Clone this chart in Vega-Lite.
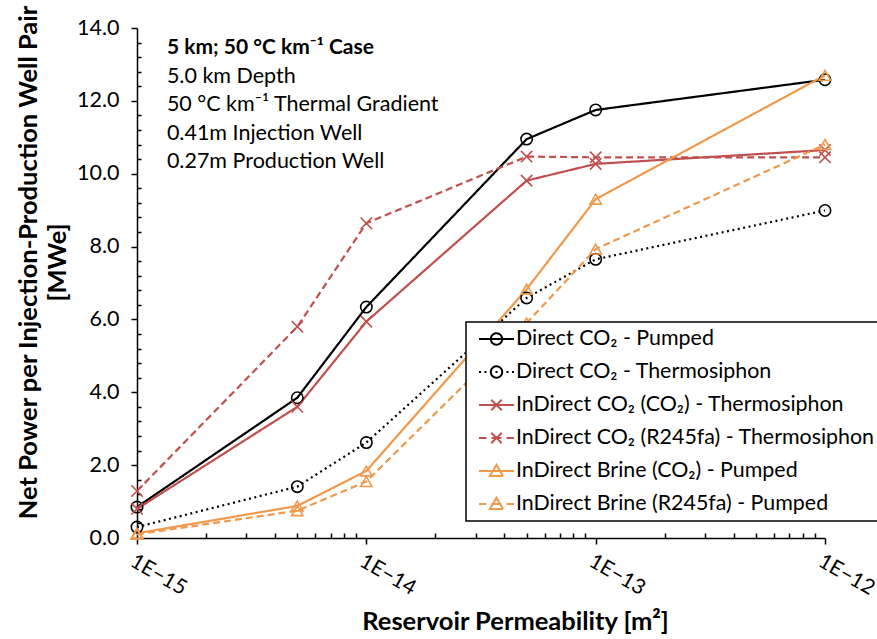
{
  "$schema": "https://vega.github.io/schema/vega-lite/v6.json",
  "width": 688,
  "height": 510,
  "autosize": {"type": "none"},
  "padding": {"left": 137, "top": 28, "right": 52, "bottom": 101},
  "background": "white",
  "config": {
    "view": {"stroke": null},
    "font": "Lato",
    "axis": {
      "grid": false,
      "ticks": true,
      "domainColor": "black",
      "domainWidth": 1.5,
      "tickColor": "black",
      "tickWidth": 1.5,
      "labelColor": "black",
      "labelFont": "Lato",
      "labelFontSize": 21.5,
      "titleColor": "black",
      "titleFont": "Lato",
      "titleFontSize": 25.5,
      "titleFontWeight": "bold"
    }
  },
  "datasets": {
    "power": [
      {"series": "Direct CO₂ - Pumped", "k": 1e-15, "p": 0.85},
      {"series": "Direct CO₂ - Pumped", "k": 5e-15, "p": 3.85},
      {"series": "Direct CO₂ - Pumped", "k": 1e-14, "p": 6.34},
      {"series": "Direct CO₂ - Pumped", "k": 5e-14, "p": 10.95},
      {"series": "Direct CO₂ - Pumped", "k": 1e-13, "p": 11.75},
      {"series": "Direct CO₂ - Pumped", "k": 1e-12, "p": 12.58},
      {"series": "Direct CO₂ - Thermosiphon", "k": 1e-15, "p": 0.3},
      {"series": "Direct CO₂ - Thermosiphon", "k": 5e-15, "p": 1.41},
      {"series": "Direct CO₂ - Thermosiphon", "k": 1e-14, "p": 2.62},
      {"series": "Direct CO₂ - Thermosiphon", "k": 5e-14, "p": 6.59},
      {"series": "Direct CO₂ - Thermosiphon", "k": 1e-13, "p": 7.65},
      {"series": "Direct CO₂ - Thermosiphon", "k": 1e-12, "p": 8.99},
      {"series": "InDirect CO₂ (CO₂) - Thermosiphon", "k": 1e-15, "p": 0.8},
      {"series": "InDirect CO₂ (CO₂) - Thermosiphon", "k": 5e-15, "p": 3.6},
      {"series": "InDirect CO₂ (CO₂) - Thermosiphon", "k": 1e-14, "p": 5.94},
      {"series": "InDirect CO₂ (CO₂) - Thermosiphon", "k": 5e-14, "p": 9.81},
      {"series": "InDirect CO₂ (CO₂) - Thermosiphon", "k": 1e-13, "p": 10.27},
      {"series": "InDirect CO₂ (CO₂) - Thermosiphon", "k": 1e-12, "p": 10.65},
      {"series": "InDirect CO₂ (R245fa) - Thermosiphon", "k": 1e-15, "p": 1.29},
      {"series": "InDirect CO₂ (R245fa) - Thermosiphon", "k": 5e-15, "p": 5.8},
      {"series": "InDirect CO₂ (R245fa) - Thermosiphon", "k": 1e-14, "p": 8.64},
      {"series": "InDirect CO₂ (R245fa) - Thermosiphon", "k": 5e-14, "p": 10.47},
      {"series": "InDirect CO₂ (R245fa) - Thermosiphon", "k": 1e-13, "p": 10.45},
      {"series": "InDirect CO₂ (R245fa) - Thermosiphon", "k": 1e-12, "p": 10.45},
      {"series": "InDirect Brine (CO₂) - Pumped", "k": 1e-15, "p": 0.13},
      {"series": "InDirect Brine (CO₂) - Pumped", "k": 5e-15, "p": 0.88},
      {"series": "InDirect Brine (CO₂) - Pumped", "k": 1e-14, "p": 1.84},
      {"series": "InDirect Brine (CO₂) - Pumped", "k": 5e-14, "p": 6.83},
      {"series": "InDirect Brine (CO₂) - Pumped", "k": 1e-13, "p": 9.3},
      {"series": "InDirect Brine (CO₂) - Pumped", "k": 1e-12, "p": 12.7},
      {"series": "InDirect Brine (R245fa) - Pumped", "k": 1e-15, "p": 0.1},
      {"series": "InDirect Brine (R245fa) - Pumped", "k": 5e-15, "p": 0.75},
      {"series": "InDirect Brine (R245fa) - Pumped", "k": 1e-14, "p": 1.55},
      {"series": "InDirect Brine (R245fa) - Pumped", "k": 5e-14, "p": 5.9},
      {"series": "InDirect Brine (R245fa) - Pumped", "k": 1e-13, "p": 7.93},
      {"series": "InDirect Brine (R245fa) - Pumped", "k": 1e-12, "p": 10.8}
    ]
  },
  "layer": [
    {
      "data": {"name": "power"},
      "mark": {"type": "line", "strokeWidth": 2.2, "clip": false},
      "encoding": {
        "x": {
          "field": "k", "type": "quantitative",
          "scale": {"type": "log", "domain": [1e-15, 1e-12], "nice": false},
          "axis": {
            "orient": "bottom",
            "values": [1e-15, 2e-15, 3e-15, 4e-15, 5e-15, 6e-15, 7e-15, 8e-15, 9e-15, 1e-14, 2e-14, 3e-14, 4e-14, 5e-14, 6e-14, 7e-14, 8e-14, 9e-14, 1e-13, 2e-13, 3e-13, 4e-13, 5e-13, 6e-13, 7e-13, 8e-13, 9e-13, 1e-12],
            "tickCount": 100,
            "labelExpr": "abs(log(datum.value) / LN10 - round(log(datum.value) / LN10)) < 1e-6 ? '1E' + format(round(log(datum.value) / LN10), 'd') : ''",
            "labelFontSize": {"condition": {"test": "abs(log(datum.value) / LN10 - round(log(datum.value) / LN10)) < 1e-6", "value": 21}, "value": 0},
            "tickSize": {"condition": {"test": "abs(log(datum.value) / LN10 - round(log(datum.value) / LN10)) < 1e-6", "value": 6}, "value": -5},
            "labelAngle": 30,
            "labelAlign": "left",
            "labelBaseline": "top",
            "labelPadding": 6,
            "labelOverlap": false,
            "labelFlush": false,
            "title": "Reservoir Permeability [m²]",
            "titleX": 378,
            "titleY": 83,
            "titleBaseline": "middle",
            "titleAnchor": null
          }
        },
        "y": {
          "field": "p", "type": "quantitative",
          "scale": {"domain": [0, 14], "nice": false, "zero": true},
          "axis": {
            "orient": "left",
            "values": [0, 0.4, 0.8, 1.2, 1.6, 2, 2.4, 2.8, 3.2, 3.6, 4, 4.4, 4.8, 5.2, 5.6, 6, 6.4, 6.8, 7.2, 7.6, 8, 8.4, 8.8, 9.2, 9.6, 10, 10.4, 10.8, 11.2, 11.6, 12, 12.4, 12.8, 13.2, 13.6, 14],
            "tickCount": 100,
            "labelExpr": "abs(datum.value / 2 - round(datum.value / 2)) < 1e-6 ? format(datum.value, '.1f') : ''",
            "labelFontSize": {"condition": {"test": "abs(datum.value / 2 - round(datum.value / 2)) < 1e-6", "value": 21.5}, "value": 0},
            "tickSize": {"condition": {"test": "abs(datum.value / 2 - round(datum.value / 2)) < 1e-6", "value": 6}, "value": -4},
            "labelOverlap": false,
            "labelFlush": false,
            "labelPadding": 12,
            "title": ["Net Power per Injection-Production Well Pair", "[MWe]"],
            "titleX": -109,
            "titleY": 234,
            "titleBaseline": "middle",
            "titleLineHeight": 29,
            "titleAnchor": null
          }
        },
        "color": {
          "field": "series", "type": "nominal",
          "scale": {
            "domain": ["Direct CO₂ - Pumped", "Direct CO₂ - Thermosiphon", "InDirect CO₂ (CO₂) - Thermosiphon", "InDirect CO₂ (R245fa) - Thermosiphon", "InDirect Brine (CO₂) - Pumped", "InDirect Brine (R245fa) - Pumped"],
            "range": ["#000000", "#000000", "#c0504d", "#c0504d", "#f0994c", "#f0994c"]
          },
          "legend": {
            "orient": "none", "legendX": 329, "legendY": 294,
            "title": null,
            "strokeColor": "black",
            "fillColor": "white",
            "padding": 6,
            "symbolOffset": 13.5,
            "symbolSize": 400,
            "symbolStrokeWidth": 2,
            "labelFont": "Lato",
            "labelFontSize": 21.4,
            "labelColor": "black",
            "labelOffset": 8.5,
            "labelLimit": 500,
            "rowPadding": 11,
            "encode": {
              "legend": {"update": {"strokeWidth": {"value": 1.5}}},
              "symbols": {
                "update": {
                  "fill": {"value": "transparent"},
                  "strokeDash": {"value": [1, 0]},
                  "shape": {"signal": "datum.value === 'Direct CO₂ - Pumped' ? 'M-1.75,0H1.75M0.57,0A0.57,0.57 0 1,1 -0.57,0A0.57,0.57 0 1,1 0.57,0' : datum.value === 'Direct CO₂ - Thermosiphon' ? 'M-1.75,0H-1.55M-1.2,0H-1M-0.1,0H0.1M1,0H1.2M1.55,0H1.75M0.57,0A0.57,0.57 0 1,1 -0.57,0A0.57,0.57 0 1,1 0.57,0' : datum.value === 'InDirect CO₂ (CO₂) - Thermosiphon' ? 'M-1.75,0H1.75M-0.52,-0.52L0.52,0.52M0.52,-0.52L-0.52,0.52' : datum.value === 'InDirect CO₂ (R245fa) - Thermosiphon' ? 'M-1.75,0H-1M-0.5,0H0.5M1,0H1.75M-0.52,-0.52L0.52,0.52M0.52,-0.52L-0.52,0.52' : datum.value === 'InDirect Brine (CO₂) - Pumped' ? 'M-1.75,0H1.75M0,-0.62L0.66,0.5L-0.66,0.5Z' : 'M-1.75,0H-1M-0.5,0H0.5M1,0H1.75M0,-0.62L0.66,0.5L-0.66,0.5Z'"}
                }
              }
            }
          }
        },
        "strokeDash": {
          "field": "series", "type": "nominal",
          "scale": {
            "domain": ["Direct CO₂ - Pumped", "Direct CO₂ - Thermosiphon", "InDirect CO₂ (CO₂) - Thermosiphon", "InDirect CO₂ (R245fa) - Thermosiphon", "InDirect Brine (CO₂) - Pumped", "InDirect Brine (R245fa) - Pumped"],
            "range": [[1, 0], [2, 3.5], [1, 0], [7, 4], [1, 0], [7, 4]]
          },
          "legend": {
            "orient": "none", "legendX": 329, "legendY": 294, "title": null
          }
        }
      }
    },
    {
      "data": {"name": "power"},
      "mark": {"type": "point", "filled": false, "strokeWidth": 1.6, "size": 130, "opacity": 1, "clip": false},
      "encoding": {
        "x": {"field": "k", "type": "quantitative"},
        "y": {"field": "p", "type": "quantitative"},
        "color": {"field": "series", "type": "nominal", "legend": null},
        "shape": {
          "field": "series", "type": "nominal",
          "scale": {
            "domain": ["Direct CO₂ - Pumped", "Direct CO₂ - Thermosiphon", "InDirect CO₂ (CO₂) - Thermosiphon", "InDirect CO₂ (R245fa) - Thermosiphon", "InDirect Brine (CO₂) - Pumped", "InDirect Brine (R245fa) - Pumped"],
            "range": ["circle", "circle", "M-1,-1L1,1M1,-1L-1,1", "M-1,-1L1,1M1,-1L-1,1", "triangle-up", "triangle-up"]
          },
          "legend": null
        }
      }
    },
    {
      "data": {"values": [{}]},
      "mark": {"type": "text", "align": "left", "baseline": "middle", "fontSize": 21, "fontWeight": "bold", "font": "Lato", "color": "black"},
      "encoding": {
        "x": {"datum": 1.35e-15, "type": "quantitative"},
        "y": {"datum": 13.45, "type": "quantitative"},
        "text": {"value": "5 km; 50 °C km⁻¹ Case"}
      }
    },
    {
      "data": {"values": [{}]},
      "mark": {"type": "text", "align": "left", "baseline": "middle", "fontSize": 21.5, "font": "Lato", "color": "black", "lineHeight": 28.3},
      "encoding": {
        "x": {"datum": 1.35e-15, "type": "quantitative"},
        "y": {"datum": 12.65, "type": "quantitative"},
        "text": {"value": ["5.0 km Depth", "50 °C km⁻¹ Thermal Gradient", "0.41m Injection Well", "0.27m Production Well"]}
      }
    }
  ],
  "resolve": {
    "legend": {"color": "independent", "shape": "independent"}
  }
}
